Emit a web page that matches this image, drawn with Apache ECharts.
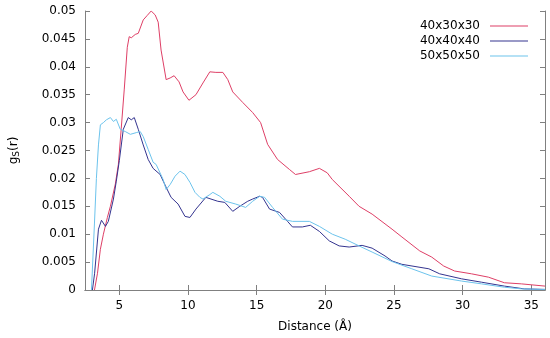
<!DOCTYPE html>
<html>
<head>
<meta charset="utf-8">
<script src="https://cdn.jsdelivr.net/npm/echarts@6/dist/echarts.min.js"></script>
<style>html,body{margin:0;padding:0;background:#fff}#c{width:550px;height:338px}</style>
</head>
<body>
<div id="c"></div>
<script>
var seriesNames = ['40x30x30', '40x40x40', '50x50x50'];
var xTicks = [5, 10, 15, 20, 25, 30, 35];
var red = [[3.19,0],[3.41,0.003],[3.62,0.0073],[3.84,0.010],[4.13,0.013],[4.35,0.015],[4.71,0.019],[4.93,0.0225],[5.14,0.029],[5.36,0.036],[5.58,0.0435],[5.72,0.0454],[5.87,0.0452],[6.16,0.0458],[6.38,0.046],[6.74,0.0484],[7.03,0.0492],[7.32,0.050],[7.61,0.0493],[7.83,0.048],[8.04,0.043],[8.41,0.0377],[8.70,0.038],[8.99,0.0384],[9.35,0.0373],[9.64,0.0355],[10.07,0.034],[10.58,0.035],[11.09,0.0371],[11.59,0.0391],[12.03,0.039],[12.54,0.039],[12.90,0.0377],[13.26,0.0355],[13.99,0.0336],[14.71,0.0318],[15.29,0.030],[15.80,0.0261],[16.52,0.0234],[17.39,0.0216],[17.83,0.0207],[18.84,0.0212],[19.57,0.0218],[20.14,0.021],[20.51,0.0198],[21.74,0.0168],[22.46,0.015],[23.41,0.0136],[24.86,0.0109],[25.58,0.0095],[26.88,0.007],[27.75,0.0059],[28.62,0.0043],[29.42,0.0034],[30.65,0.0029],[31.88,0.0023],[33.04,0.0013],[34.28,0.0011],[36.0,0.0007]];
var navy = [[3.04,0],[3.20,0.003],[3.48,0.0109],[3.70,0.0125],[3.99,0.0114],[4.20,0.0123],[4.57,0.0163],[4.78,0.0195],[5.0,0.0232],[5.29,0.0288],[5.65,0.0309],[5.87,0.0305],[6.09,0.0309],[6.38,0.0288],[6.74,0.026],[7.10,0.0234],[7.46,0.0218],[7.97,0.0207],[8.41,0.0184],[8.77,0.0166],[9.28,0.0154],[9.78,0.0132],[10.14,0.013],[10.58,0.0145],[11.30,0.0166],[12.17,0.0159],[12.68,0.0157],[13.26,0.0141],[13.77,0.015],[14.35,0.0159],[14.71,0.0163],[15.22,0.0168],[15.43,0.0166],[15.94,0.0145],[16.67,0.0139],[17.25,0.0123],[17.61,0.0113],[18.33,0.0113],[18.91,0.0116],[19.57,0.0105],[20.29,0.0088],[21.01,0.0079],[21.74,0.0077],[22.68,0.008],[23.41,0.0075],[24.35,0.0061],[24.86,0.0052],[25.58,0.0046],[27.54,0.0038],[28.33,0.0029],[29.93,0.002],[31.38,0.0014],[33.04,0.0007],[34.49,0.0002],[36.0,0.0001]];
var sky = [[2.97,0],[3.19,0.012],[3.33,0.02],[3.48,0.026],[3.62,0.0296],[3.84,0.030],[4.06,0.0305],[4.35,0.0309],[4.57,0.0302],[4.78,0.0306],[5.07,0.0288],[5.43,0.0284],[5.80,0.0279],[6.23,0.0282],[6.52,0.0284],[6.74,0.0275],[7.10,0.0252],[7.46,0.0229],[7.68,0.0225],[8.19,0.0198],[8.41,0.018],[8.70,0.0189],[9.06,0.0204],[9.42,0.0213],[9.78,0.0207],[10.14,0.0193],[10.51,0.0175],[10.87,0.0166],[11.09,0.0163],[11.59,0.0171],[11.81,0.0175],[12.32,0.0168],[12.75,0.0159],[13.48,0.0154],[14.20,0.0148],[14.71,0.0159],[15.22,0.0168],[15.58,0.0166],[16.16,0.0148],[16.88,0.0127],[17.61,0.0123],[18.84,0.0123],[19.57,0.0114],[20.51,0.010],[21.45,0.0091],[22.46,0.0079],[23.41,0.0068],[24.86,0.0051],[26.30,0.0038],[27.75,0.0025],[29.93,0.0016],[31.38,0.0011],[33.04,0.0005],[34.28,0.0002],[36.0,0.0001]];

var font = 'DejaVu Sans';
var axisColor = '#808080';
var chart = echarts.init(document.getElementById('c'), null, {renderer: 'canvas'});
function mkSeries(name, data, color) {
  return {name: name, type: 'line', data: data, symbol: 'none', smooth: false,
    lineStyle: {color: color, width: 1}, itemStyle: {color: color}, animation: false};
}
chart.setOption({
  animation: false,
  backgroundColor: '#fff',
  grid: {left: 81, right: 5, top: 11, bottom: 47, containLabel: false},
  legend: {
    data: seriesNames, orient: 'vertical', right: 17, top: 14, align: 'right',
    icon: 'rect', itemWidth: 38, itemHeight: 1, itemGap: 1,
    textStyle: {fontFamily: font, fontSize: 12, color: '#000', padding: [0, 5, 0, 0], lineHeight: 14}
  },
  xAxis: [{
    type: 'value', min: 2.5, max: 36, position: 'bottom',
    name: 'Distance (Å)', nameLocation: 'middle', nameGap: 31,
    nameTextStyle: {fontFamily: font, fontSize: 12, color: '#000'},
    axisLine: {lineStyle: {color: axisColor}},
    axisTick: {inside: true, length: 5, customValues: xTicks, lineStyle: {color: axisColor}},
    axisLabel: {customValues: xTicks, fontFamily: font, fontSize: 12, color: '#000', margin: 10},
    splitLine: {show: false}
  }, {
    type: 'value', min: 2.5, max: 36, position: 'top',
    axisLine: {show: true, lineStyle: {color: axisColor}},
    axisTick: {inside: true, length: 5, customValues: xTicks, lineStyle: {color: axisColor}},
    axisLabel: {show: false}, splitLine: {show: false}
  }],
  yAxis: [{
    type: 'value', min: 0, max: 0.05, interval: 0.005, position: 'left',
    name: 'g{s|S}(r)', nameLocation: 'middle', nameGap: 64, nameRotate: 90,
    nameTextStyle: {fontFamily: font, fontSize: 12, color: '#000',
      rich: {s: {fontFamily: font, fontSize: 9, color: '#000', padding: [5, 0, 0, 0]}}},
    axisLine: {show: true, lineStyle: {color: axisColor}},
    axisTick: {inside: true, length: 5, lineStyle: {color: axisColor}},
    axisLabel: {fontFamily: font, fontSize: 12, color: '#000', margin: 9},
    splitLine: {show: false}
  }, {
    type: 'value', min: 0, max: 0.05, interval: 0.005, position: 'right',
    axisLine: {show: true, lineStyle: {color: axisColor}},
    axisTick: {inside: true, length: 5, lineStyle: {color: axisColor}},
    axisLabel: {show: false}, splitLine: {show: false}
  }],
  series: [
    mkSeries(seriesNames[0], red, '#de3f66'),
    mkSeries(seriesNames[1], navy, '#34348f'),
    mkSeries(seriesNames[2], sky, '#6cc3ec')
  ]
});
</script>
</body>
</html>
